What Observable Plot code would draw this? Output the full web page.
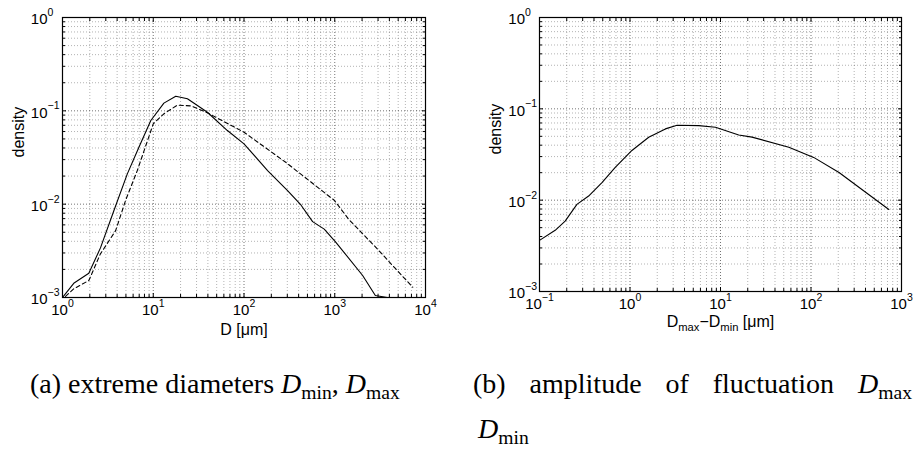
<!DOCTYPE html>
<html><head><meta charset="utf-8">
<script src="https://cdn.jsdelivr.net/npm/d3@7"></script>
<script src="https://cdn.jsdelivr.net/npm/@observablehq/plot@0.6"></script>
<style>
body{margin:0;background:#fff;width:915px;height:454px;overflow:hidden;position:relative}
#pa{position:absolute;left:0;top:0;width:455px}
#pb{position:absolute;left:455px;top:0;width:460px}
.cap{position:absolute;font-family:"Liberation Serif","DejaVu Serif",serif;font-size:25px;line-height:1;white-space:nowrap;color:#000}
.cap i{font-style:italic}
.cap sub{font-size:0.7em;vertical-align:-0.3em;line-height:0}
</style></head><body>
<div id="pa"></div><div id="pb"></div>
<div class="cap" id="capA" style="left:30px;top:370px">(a) extreme diameters <i>D</i><sub>min</sub>, <i>D</i><sub>max</sub></div>
<div class="cap" id="capB1" style="left:473px;top:370px">(b) amplitude of fluctuation <i>D</i><sub>max</sub></div>
<div class="cap" id="capB2" style="left:478px;top:415px"><i>D</i><sub>min</sub></div>
<script>
// ---- data: panel (a) ----
const aSolidD = [1.0, 1.33, 1.95, 2.62, 3.68, 5.18, 6.95, 9.4, 13.1, 17.7, 23.8, 39.5, 65.6, 100, 182, 302, 424, 570, 766, 1030, 2030, 2800, 3800, 4500];
const aSolidP = [1.0e-3, 1.42e-3, 1.82e-3, 3.4e-3, 8.5e-3, 0.0211, 0.0407, 0.0787, 0.121, 0.1435, 0.1345, 0.0966, 0.0615, 0.0443, 0.0229, 0.014, 9.8e-3, 6.5e-3, 5.4e-3, 3.9e-3, 1.72e-3, 1.05e-3, 1.0e-3, 0.7e-3];
const aDashD = [1.08, 1.33, 1.95, 2.62, 3.85, 4.96, 6.67, 10, 13.1, 18.4, 26, 39.5, 100, 288, 988, 1440, 2960, 4540, 7240];
const aDashP = [1.03e-3, 1.24e-3, 1.52e-3, 2.94e-3, 5.2e-3, 0.011, 0.0229, 0.0725, 0.093, 0.115, 0.113, 0.0953, 0.059, 0.0281, 0.011, 6.8e-3, 3.3e-3, 2.1e-3, 1.29e-3];
// ---- data: panel (b) ----
const bX = [0.1, 0.149, 0.192, 0.259, 0.349, 0.49, 0.687, 1.05, 1.61, 2.46, 3.31, 5.75, 8.8, 15.9, 22.3, 56.9, 107, 204, 725];
const bP = [3.63e-3, 4.68e-3, 5.9e-3, 9.0e-3, 0.0111, 0.0156, 0.0228, 0.035, 0.0488, 0.0603, 0.066, 0.0655, 0.0628, 0.0518, 0.049, 0.0379, 0.0294, 0.0201, 7.9e-3];
// ---- tick labels ----
const aXTicks = [1, 10, 100, 1000, 10000];
const aXExp = ["0", "1", "2", "3", "4"];
const bXTicks = [0.1, 1, 10, 100, 1000];
const bXExp = ["\u22121", "0", "1", "2", "3"];
const yTicks = [0.001, 0.01, 0.1, 1];
const yExp = ["\u22123", "\u22122", "\u22121", "0"];
const yLabel = "density";
const aXLabel = "D [\u03bcm]";
const bXLabel = "D_{max}\u2212D_{min} [\u03bcm]";

const FONT = "'Liberation Sans', Arial, Helvetica, sans-serif";

function minorTicks(majors) {
  const out = [];
  for (let i = 0; i < majors.length - 1; i++) for (let k = 2; k <= 9; k++) out.push(majors[i] * k);
  return out;
}

// turn "10^{-1}" / "D_{max}" into tspans with real super/subscripts
function richify(svg) {
  svg.querySelectorAll("text").forEach(t => {
    const s = t.textContent;
    if (!/[_^]\{/.test(s)) return;
    const g = t.closest("g");
    const fs = parseFloat((g && g.getAttribute("font-size")) || t.getAttribute("font-size") || 15);
    const small = fs * 0.7;
    const sup = fs * 0.47, sub = fs * 0.27;
    t.textContent = "";
    const re = /([_^])\{([^}]*)\}|([^_^]+)/g;
    let m, shift = 0;
    while ((m = re.exec(s))) {
      const ts = document.createElementNS("http://www.w3.org/2000/svg", "tspan");
      if (m[1]) {
        const target = m[1] === "^" ? -sup : sub;
        ts.setAttribute("dy", target - shift); shift = target;
        ts.setAttribute("font-size", small);
        ts.textContent = m[2];
      } else {
        ts.setAttribute("dy", -shift); shift = 0;
        ts.textContent = m[3];
      }
      t.appendChild(ts);
    }
  });
}

function panel({width, height, mL, mR, mT, mB, xDomain, xTicks, xExp, xLabel, series, yDx, xLabelDy}) {
  const xMinor = minorTicks(xTicks);
  const yMinor = minorTicks(yTicks);
  const gridStyle = {stroke: "#000", strokeDasharray: "1,2", strokeWidth: 1};
  const tickOpts = (anchor, ticks, size) => {
    const o = {anchor, ticks, tickSize: size, tickFormat: () => "", label: null, stroke: "#000"};
    if (anchor === "bottom") o.dy = -size;
    if (anchor === "top") o.dy = size;
    if (anchor === "left") o.dx = size;
    if (anchor === "right") o.dx = -size;
    return o;
  };
  const marks = [
    Plot.ruleX(xMinor, {...gridStyle, strokeOpacity: 0.3}),
    Plot.ruleY(yMinor, {...gridStyle, strokeOpacity: 0.3}),
    Plot.ruleX(xTicks, {...gridStyle, strokeOpacity: 0.55}),
    Plot.ruleY(yTicks, {...gridStyle, strokeOpacity: 0.55}),
    ...series.map(s => Plot.line(s.x.map((x, i) => ({x, y: s.y[i]})), {
      x: "x", y: "y", stroke: "#000", strokeWidth: 1.1, strokeDasharray: s.dash, clip: true
    })),
    Plot.axisX(tickOpts("bottom", xTicks, 4)),
    Plot.axisX(tickOpts("top", xTicks, 4)),
    Plot.axisX(tickOpts("bottom", xMinor, 3)),
    Plot.axisX(tickOpts("top", xMinor, 3)),
    Plot.axisY(tickOpts("left", yTicks, 4)),
    Plot.axisY(tickOpts("right", yTicks, 4)),
    Plot.axisY(tickOpts("left", yMinor, 3)),
    Plot.axisY(tickOpts("right", yMinor, 3)),
    Plot.frame({stroke: "#000", strokeWidth: 1.2}),
    Plot.text(xTicks, {x: d => d, frameAnchor: "bottom", dy: 17, text: (d, i) => "10^{" + xExp[i] + "}",
      textAnchor: "middle", fontSize: 15, fill: "#000"}),
    Plot.text(yTicks, {y: d => d, frameAnchor: "left", dx: yDx, dy: 2, text: () => "10",
      textAnchor: "end", fontSize: 15, fill: "#000"}),
    Plot.text(yTicks, {y: d => d, frameAnchor: "left", dx: yDx, dy: -5, text: (d, i) => yExp[i],
      textAnchor: "start", fontSize: 10.5, fill: "#000"}),
    Plot.text([yLabel], {frameAnchor: "left", dx: -44, rotate: -90, text: d => d, fontSize: 16, fill: "#000"}),
    Plot.text([xLabel], {frameAnchor: "bottom", dy: xLabelDy, text: d => d, fontSize: 16, fill: "#000"})
  ];
  const svg = Plot.plot({
    width, height, marginLeft: mL, marginRight: mR, marginTop: mT, marginBottom: mB,
    x: {type: "log", domain: xDomain},
    y: {type: "log", domain: [1e-3, 1]},
    style: {fontFamily: FONT, background: "white", color: "#000", overflow: "visible"},
    marks
  });
  richify(svg);
  return svg;
}

document.getElementById("pa").appendChild(panel({
  width: 455, height: 342, mL: 62, mR: 30, mT: 17, mB: 45,
  xDomain: [1, 1e4], xTicks: aXTicks, xExp: aXExp, xLabel: aXLabel, yDx: -15, xLabelDy: 37,
  series: [{x: aSolidD, y: aSolidP, dash: null}, {x: aDashD, y: aDashP, dash: "4,3"}]
}));
document.getElementById("pb").appendChild(panel({
  width: 460, height: 336, mL: 84, mR: 14, mT: 17, mB: 45,
  xDomain: [0.1, 1000], xTicks: bXTicks, xExp: bXExp, xLabel: bXLabel, yDx: -14.5, xLabelDy: 35,
  series: [{x: bX, y: bP, dash: null}]
}));

// fit captions
(function () {
  const a = document.getElementById("capA"), b1 = document.getElementById("capB1"), b2 = document.getElementById("capB2");
  const wA = a.getBoundingClientRect().width;
  const fs = Math.max(18, Math.min(30, 25 * 370 / wA));
  [a, b1, b2].forEach(e => e.style.fontSize = fs + "px");
  const wB = b1.getBoundingClientRect().width;
  const nSp = 4;
  if (wB < 439) b1.style.wordSpacing = ((439 - wB) / nSp) + "px";
})();
</script>
</body></html>
